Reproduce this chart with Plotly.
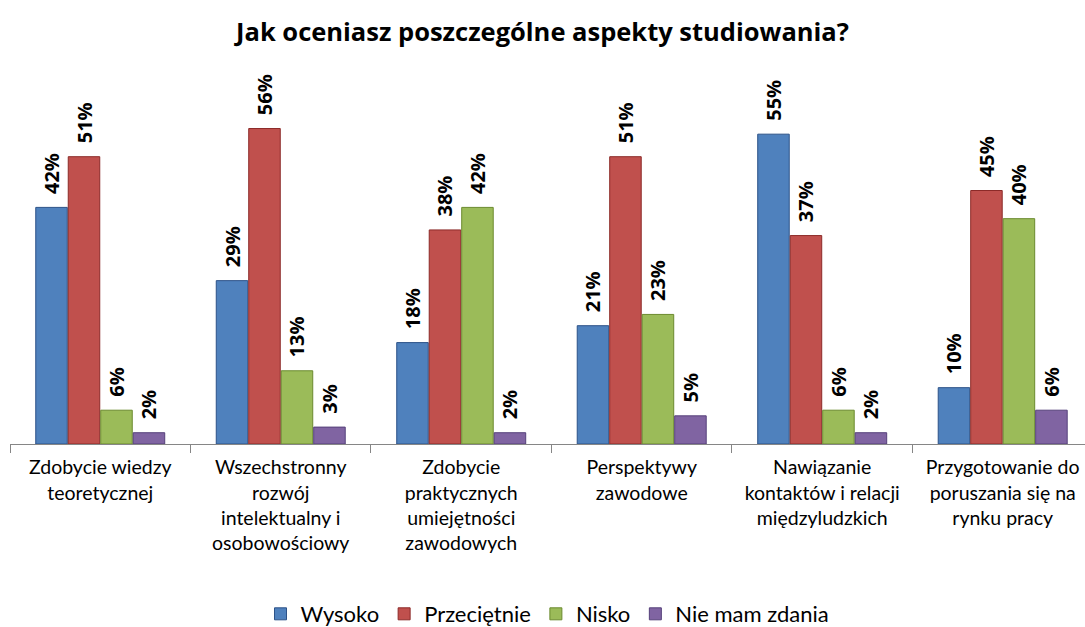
import plotly.graph_objects as go

categories = [
    "Zdobycie wiedzy<br>teoretycznej",
    "Wszechstronny<br>rozwój<br>intelektualny i<br>osobowościowy",
    "Zdobycie<br>praktycznych<br>umiejętności<br>zawodowych",
    "Perspektywy<br>zawodowe",
    "Nawiązanie<br>kontaktów i relacji<br>międzyludzkich",
    "Przygotowanie do<br>poruszania się na<br>rynku pracy",
]
series_names = ["Wysoko", "Przeciętnie", "Nisko", "Nie mam zdania"]
wysoko = [42, 29, 18, 21, 55, 10]
przecietnie = [51, 56, 38, 51, 37, 45]
nisko = [6, 13, 42, 23, 6, 40]
nie_mam = [2, 3, 2, 5, 2, 6]
values = [wysoko, przecietnie, nisko, nie_mam]
colors = ["#4F81BD", "#C0504D", "#9BBB59", "#8064A2"]
line_colors = ["#2C5288", "#8C2A28", "#6B8A2E", "#55407A"]

FONT = "Lato, 'Open Sans', sans-serif"

fig = go.Figure()
for name, vals, c, lc in zip(series_names, values, colors, line_colors):
    fig.add_trace(go.Bar(
        name=name,
        x=list(range(len(categories))),
        y=[v / 100 for v in vals],
        text=[f"\u00a0\u00a0{v}%" for v in vals],
        textposition="outside",
        textangle=-90,
        constraintext="none",
        textfont=dict(family="'Open Sans', sans-serif", size=20, color="#000000", weight="bold"),
        cliponaxis=False,
        marker=dict(color=c, line=dict(color=lc, width=1)),
    ))

fig.update_layout(
    width=1085, height=627,
    margin=dict(l=10, r=0, t=106, b=183, autoexpand=False),
    paper_bgcolor="white", plot_bgcolor="white",
    barmode="group", bargap=0.28, bargroupgap=0.03,
    title=dict(
        text="<b>Jak oceniasz poszczególne aspekty studiowania?</b>",
        x=0.5, xanchor="center", y=0.949, yanchor="middle",
        font=dict(family="'Open Sans', sans-serif", size=25.5, color="#000000"),
    ),
    showlegend=True,
    legend=dict(
        orientation="h", x=0.5, xanchor="center", y=-0.503, yanchor="middle",
        font=dict(family=FONT, size=22, color="#000000"),
        itemwidth=30, traceorder="normal",
    ),
    uniformtext=dict(mode=False),
)
fig.update_xaxes(
    tickmode="array",
    tickvals=list(range(len(categories))),
    ticktext=categories,
    range=[-0.5, 5.456],
    showline=True, linecolor="#868686", linewidth=1,
    ticks="", showgrid=False, zeroline=False,
    tickfont=dict(family=FONT, size=19.5, color="#000000"),
    ticklabelstandoff=6,
)
fig.update_xaxes(minor=dict(tickmode="array", tickvals=[i + 0.5 for i in range(-1, 6)],
                            ticks="outside", ticklen=8, tickcolor="#868686", tickwidth=1))
fig.update_yaxes(range=[0, 0.6], visible=False, showgrid=False, zeroline=False)

fig.write_html("out.html", config={"displayModeBar": False},
               post_script="document.body.style.margin='0';document.body.style.padding='0';")
